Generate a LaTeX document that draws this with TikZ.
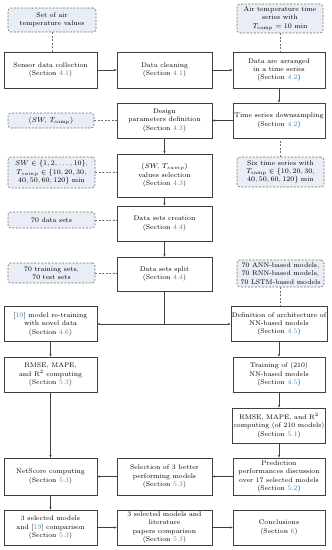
\documentclass[tikz,border=0pt]{standalone}
\usetikzlibrary{arrows.meta}
\definecolor{secblue}{HTML}{3A87C4}
\definecolor{dfill}{HTML}{E8EDF6}
\definecolor{dline}{HTML}{707070}
\definecolor{bline}{HTML}{404040}
\newcommand{\sref}[1]{\textcolor{secblue}{#1}}
\newcommand{\Sec}[1]{(Section~\sref{#1})}
\tikzset{
  every node/.style={font=\fontsize{6.8}{8.4}\selectfont, align=center, inner sep=1pt},
  solidbox/.style={draw=bline, line width=0.6pt, fill=white, minimum height=35pt},
  colL/.style={solidbox, minimum width=93pt},
  colM/.style={solidbox, minimum width=95pt},
  colR/.style={solidbox, minimum width=92pt},
  dbox/.style={draw=dline, line width=0.6pt, dash pattern=on 2pt off 1.5pt, fill=dfill, rounded corners=3pt, minimum width=87pt},
  arr/.style={draw=bline, line width=0.6pt, -{Stealth[length=2.8pt,width=2.2pt]}},
  plain/.style={draw=bline, line width=0.6pt},
  dlink/.style={draw=dline, line width=0.6pt, dash pattern=on 2pt off 1.5pt},
}
\begin{document}
\begin{tikzpicture}[x=1pt,y=-1pt]
\useasboundingbox (0,0) rectangle (332,550);
% dashed boxes
\node[dbox, minimum width=88pt, minimum height=24pt] (setair) at (52,20) {Set of air\\temperature values};
\node[dbox, minimum width=86pt, minimum height=29pt] (airts) at (280,18.5) {Air temperature time\\series with\\$T_{\mathrm{samp}}=10$ min};
\node[dbox, minimum width=86pt, minimum height=15pt] (swt) at (51,120.5) {$(SW,\,T_{\mathrm{samp}})$};
\node[dbox, minimum height=31pt] (swset) at (51.5,172.5) {$SW\in\{1,2,\ldots,10\}$,\\$T_{samp}\in\{10,20,30,$\\$40,50,60,120\}$ min};
\node[dbox, minimum height=30pt] (six) at (280.5,172) {Six time series with\\$T_{\mathrm{samp}}\in\{10,20,30,$\\$40,50,60,120\}$ min};
\node[dbox, minimum height=16pt] (seventy) at (51.5,220) {70 data sets};
\node[dbox, minimum height=20pt] (trainsets) at (51.5,273) {70 training sets,\\70 test sets};
\node[dbox, minimum height=27pt] (ann) at (280.5,273.5) {70 ANN-based models,\\70 RNN-based models,\\70 LSTM-based models};
% solid boxes
\node[colL, minimum height=36pt] (sensor) at (50.5,70) {Sensor data collection\\\Sec{4.1}};
\node[colM, minimum height=36pt] (clean) at (164.5,70) {Data cleaning\\\Sec{4.1}};
\node[colR, minimum height=36pt] (arranged) at (279,70) {Data are arranged\\in a time series\\\Sec{4.2}};
\node[colM] (design) at (164.5,120.5) {Design\\parameters definition\\\Sec{4.3}};
\node[colR] (down) at (279,120.5) {Time series downsampling\\\Sec{4.2}};
\node[colM, minimum height=43pt] (values) at (164.5,175.5) {$(SW,\,T_{samp})$\\values selection\\\Sec{4.3}};
\node[colM] (creation) at (164.5,223.5) {Data sets creation\\\Sec{4.4}};
\node[colM, minimum height=34pt] (split) at (164.5,274) {Data sets split\\\Sec{4.4}};
\node[colL] (retrain) at (50.5,324) {[\sref{19}] model re-training\\with novel data\\\Sec{4.6}};
\node[colR] (defn) at (279,324) {Definition of architecture of\\NN-based models\\\Sec{4.5}};
\node[colL] (rmseL) at (50.5,374.5) {RMSE, MAPE,\\and R$^2$ computing\\\Sec{5.3}};
\node[colR] (train) at (279,374.5) {Training of (210)\\NN-based models\\\Sec{4.5}};
\node[colR] (rmseR) at (279,425.5) {RMSE, MAPE, and R$^2$\\computing (of 210 models)\\\Sec{5.1}};
\node[colL, minimum height=37pt] (netscore) at (50.5,476.5) {NetScore computing\\\Sec{5.3}};
\node[colM, minimum height=37pt] (select) at (164.5,476.5) {Selection of 3 better\\performing models\\\Sec{5.3}};
\node[colR, minimum height=37pt] (predict) at (279,476.5) {Prediction\\performances discussion\\over 17 selected models\\\Sec{5.2}};
\node[colL] (cmpnine) at (50.5,527.5) {3 selected models\\and [\sref{19}] comparison\\\Sec{5.3}};
\node[colM] (cmplit) at (164.5,527.5) {3 selected models and\\literature\\papers comparison\\\Sec{5.3}};
\node[colR] (concl) at (279,527.5) {Conclusions\\\Sec{6}};
% dashed links
\draw[dlink] (setair.south) -- (setair.south |- sensor.north);
\draw[dlink] (airts.south) -- (airts.south |- arranged.north);
\draw[dlink] (swt.east) -- (design.west);
\draw[dlink] (swset.east) -- (swset.east -| values.west);
\draw[dlink] (six.north) -- (six.north |- down.south);
\draw[dlink] (seventy.east) -- (seventy.east -| creation.west);
\draw[dlink] (trainsets.east) -- (trainsets.east -| split.west);
\draw[dlink] (ann.south) -- (ann.south |- defn.north);
% arrows
\draw[arr] (sensor) -- (clean);
\draw[arr] (clean) -- (arranged);
\draw[arr] (arranged) -- (down);
\draw[arr] (down) -- (design);
\draw[arr] (design) -- (values);
\draw[arr] (values) -- (creation);
\draw[arr] (creation) -- (split);
\coordinate (br) at (164.5,324);
\draw[plain] (split) -- (br);
\draw[arr] (br) -- (retrain);
\draw[arr] (br) -- (defn);
\draw[arr] (defn) -- (train);
\draw[arr] (train) -- (rmseR);
\draw[arr] (rmseR) -- (predict);
\draw[arr] (predict) -- (select);
\draw[arr] (select) -- (netscore);
\draw[arr] (retrain) -- (rmseL);
\draw[arr] (rmseL) -- (netscore);
\draw[arr] (netscore) -- (cmpnine);
\draw[arr] (cmpnine) -- (cmplit);
\draw[arr] (cmplit) -- (concl);
\end{tikzpicture}
\end{document}
